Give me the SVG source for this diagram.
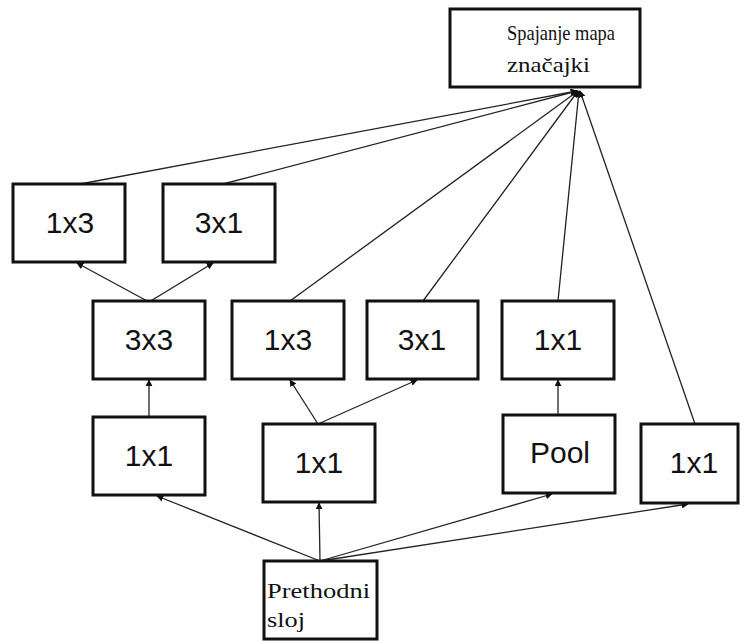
<svg xmlns="http://www.w3.org/2000/svg" width="744" height="641" viewBox="0 0 744 641">
<defs>
<marker id="ah" viewBox="0 0 10 10" refX="9" refY="5" markerWidth="7" markerHeight="7" markerUnits="userSpaceOnUse" orient="auto">
<path d="M0,0 L10,5 L0,10 z" fill="#111"/>
</marker>
</defs>
<style>
.box{fill:#fff;stroke:#111;stroke-width:3}
.lbl{font-family:"Liberation Sans",Arial,sans-serif;font-size:30px;fill:#111;text-anchor:middle}
.ser{font-family:"Liberation Serif","Times New Roman",serif;font-size:21px;fill:#111}
.c line{stroke:#222;stroke-width:1.3;fill:none}
</style>
<rect width="744" height="641" fill="#fff"/>
<g class="c" id="connectors">
<line x1="80" y1="184" x2="577" y2="91" marker-end="url(#ah)"/>
<line x1="223" y1="184" x2="577" y2="91" marker-end="url(#ah)"/>
<line x1="290" y1="301" x2="578" y2="91" marker-end="url(#ah)"/>
<line x1="423" y1="301" x2="578" y2="91" marker-end="url(#ah)"/>
<line x1="558" y1="301" x2="579" y2="91" marker-end="url(#ah)"/>
<line x1="695" y1="424" x2="580" y2="91" marker-end="url(#ah)"/>
<line x1="149" y1="302" x2="77" y2="263" marker-end="url(#ah)"/>
<line x1="149" y1="302" x2="213" y2="263" marker-end="url(#ah)"/>
<line x1="149" y1="417" x2="149" y2="380" marker-end="url(#ah)"/>
<line x1="318" y1="424" x2="290" y2="380" marker-end="url(#ah)"/>
<line x1="318" y1="424" x2="417" y2="380" marker-end="url(#ah)"/>
<line x1="558" y1="415" x2="558" y2="380" marker-end="url(#ah)"/>
<line x1="320" y1="561" x2="157" y2="496" marker-end="url(#ah)"/>
<line x1="320" y1="561" x2="319" y2="503" marker-end="url(#ah)"/>
<line x1="320" y1="561" x2="552" y2="494" marker-end="url(#ah)"/>
<line x1="320" y1="561" x2="688" y2="504" marker-end="url(#ah)"/>
</g>
<g id="concat"><rect class="box" x="450" y="9" width="190" height="78"/><text class="ser" x="507" y="40" textLength="108" lengthAdjust="spacingAndGlyphs">Spajanje mapa</text><text class="ser" x="507" y="72" textLength="83" lengthAdjust="spacingAndGlyphs">značajki</text></g>
<g id="r1a"><rect class="box" x="13" y="184" width="112" height="78"/><text class="lbl" x="70" y="233">1x3</text></g>
<g id="r1b"><rect class="box" x="163" y="184" width="112" height="78"/><text class="lbl" x="219" y="233">3x1</text></g>
<g id="r2a"><rect class="box" x="93" y="301" width="112" height="78"/><text class="lbl" x="149" y="350">3x3</text></g>
<g id="r2b"><rect class="box" x="232" y="301" width="112" height="78"/><text class="lbl" x="288" y="350">1x3</text></g>
<g id="r2c"><rect class="box" x="367" y="301" width="111" height="78"/><text class="lbl" x="422" y="350">3x1</text></g>
<g id="r2d"><rect class="box" x="502" y="301" width="112" height="78"/><text class="lbl" x="558" y="350">1x1</text></g>
<g id="r3a"><rect class="box" x="93" y="417" width="112" height="78"/><text class="lbl" x="149" y="466">1x1</text></g>
<g id="r3b"><rect class="box" x="263" y="424" width="112" height="78"/><text class="lbl" x="319" y="473">1x1</text></g>
<g id="r3c"><rect class="box" x="503" y="415" width="112" height="78"/><text class="lbl" x="560" y="463">Pool</text></g>
<g id="r3d"><rect class="box" x="641" y="424" width="97" height="79"/><text class="lbl" x="694" y="473">1x1</text></g>
<g id="prev"><rect class="box" x="264" y="561" width="113" height="78"/><text class="ser" x="267" y="598" font-size="22" textLength="103" lengthAdjust="spacingAndGlyphs">Prethodni</text><text class="ser" x="267" y="627" font-size="22" textLength="38" lengthAdjust="spacingAndGlyphs">sloj</text></g>
</svg>
